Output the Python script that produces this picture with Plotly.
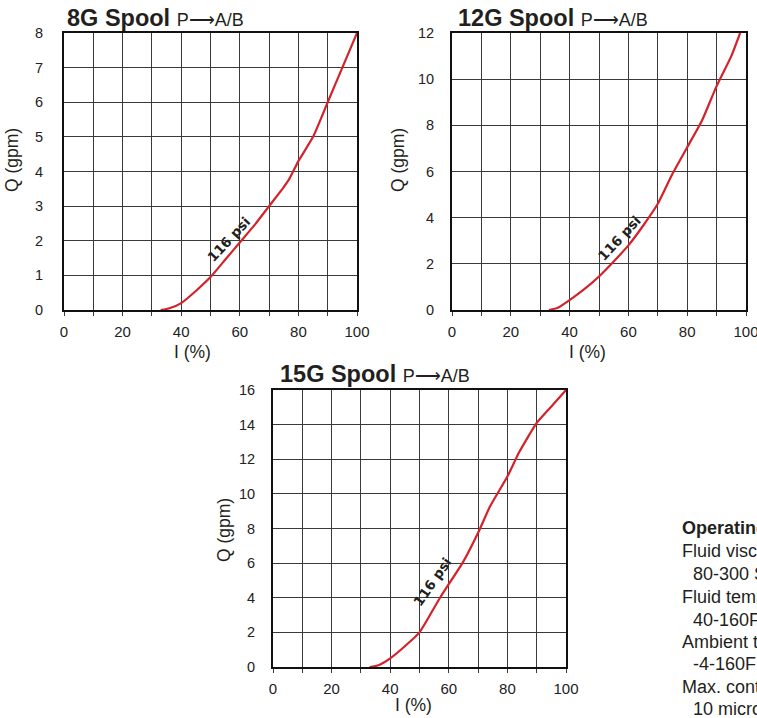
import plotly.graph_objects as go

W, H = 757, 718

# ---- data ----
i_8g = [33, 36, 40, 45, 50, 55, 60, 65, 70, 75, 77, 80, 85, 90, 95, 100]
q_8g = [0, 0.05, 0.2, 0.55, 0.95, 1.45, 1.95, 2.45, 3.0, 3.55, 3.8, 4.3, 5.0, 6.0, 7.0, 8.0]

i_12g = [33, 36, 40, 45, 50, 55, 60, 65, 70, 75, 80, 85, 90, 95, 98]
q_12g = [0, 0.1, 0.43, 0.9, 1.45, 2.1, 2.8, 3.65, 4.6, 5.9, 7.05, 8.2, 9.7, 11.0, 12.0]

i_15g = [33, 36, 40, 45, 50, 57, 65, 70, 74, 80, 84, 90, 95, 100]
q_15g = [0, 0.1, 0.5, 1.2, 2.0, 4.0, 6.1, 7.75, 9.25, 11.0, 12.4, 14.1, 15.05, 16.0]

x_ticks = [0, 20, 40, 60, 80, 100]
pressure_label = "116 psi"
notes = ["Fluid viscosity", "80-300 SUS", "Fluid temperature", "40-160F",
         "Ambient temperature", "-4-160F", "Max. contamination", "10 micron"]
notes_title = "Operating Conditions"

# ---- layout helpers ----
RED = "#d3222a"
GRID = "#3a3a3a"
FONT = "Liberation Sans, Arial, sans-serif"

def px_x(p):
    return p / W

def px_y(p):
    return 1 - p / H

panels = [
    dict(name="8G", I=i_8g, Q=q_8g, l=64, r=357, t=33, b=310, ymax=8, dy=1, so=16,
         lab=(56.3, 2.05, -47), title_x=65, title_y=18, ytitle_x=12, ytitle_y=160, xtitle_x=193, xtitle_y=352),
    dict(name="12G", I=i_12g, Q=q_12g, l=452, r=746, t=33, b=310, ymax=12, dy=2, so=13,
         lab=(57.0, 3.1, -47), title_x=456, title_y=18, ytitle_x=398, ytitle_y=160, xtitle_x=587, xtitle_y=352),
    dict(name="15G", I=i_15g, Q=q_15g, l=273, r=566, t=390, b=667, ymax=16, dy=2, so=13,
         lab=(54.3, 4.9, -55), title_x=278, title_y=374, ytitle_x=224, ytitle_y=530, xtitle_x=413, xtitle_y=705),
]

fig = go.Figure()
annotations = []
layout_axes = {}

for k, p in enumerate(panels, start=1):
    xa = "x" if k == 1 else f"x{k}"
    ya = "y" if k == 1 else f"y{k}"
    fig.add_trace(go.Scatter(x=p["I"], y=p["Q"], mode="lines",
                             line=dict(color=RED, width=2.2, shape="spline", smoothing=0.5),
                             xaxis=xa, yaxis=ya, hoverinfo="skip", showlegend=False))
    xkey = "xaxis" if k == 1 else f"xaxis{k}"
    ykey = "yaxis" if k == 1 else f"yaxis{k}"
    layout_axes[xkey] = dict(
        domain=[px_x(p["l"]), px_x(p["r"])], anchor=ya, range=[0, 100],
        tickvals=x_ticks, ticks="outside", ticklen=4, tickwidth=1.3, tickcolor=GRID,
        showgrid=True, gridcolor=GRID, gridwidth=1.3,
        minor=dict(dtick=10, tick0=0, showgrid=True, gridcolor=GRID, gridwidth=1.3,
                   ticks="outside", ticklen=4, tickwidth=1.3, tickcolor=GRID),
        showline=True, linecolor="#111", linewidth=2, mirror=True, zeroline=False,
        tickfont=dict(family=FONT, size=15, color="#222"), ticklabelstandoff=3,
        ticklabeloverflow="allow",
        fixedrange=True, automargin=False,
    )
    layout_axes[ykey] = dict(
        domain=[px_y(p["b"]), px_y(p["t"])], anchor=xa, range=[0, p["ymax"]],
        dtick=p["dy"], tick0=0, ticks="",
        showgrid=True, gridcolor=GRID, gridwidth=1.3,
        showline=True, linecolor="#111", linewidth=2, mirror=True, zeroline=False,
        tickfont=dict(family=FONT, size=14.5, color="#222"), ticklabelstandoff=p["so"],
        ticklabeloverflow="allow",
        fixedrange=True, automargin=False,
    )
    annotations.append(dict(
        xref="paper", yref="paper", x=px_x(p["title_x"]), y=px_y(p["title_y"]),
        xanchor="left", yanchor="middle", showarrow=False,
        text=f"<b>{p['name']} Spool</b> <span style='font-size:18px'>P⟶A/B</span>",
        font=dict(family=FONT, size=23.5, color="#231f20")))
    annotations.append(dict(
        xref="paper", yref="paper", x=px_x(p["ytitle_x"]), y=px_y(p["ytitle_y"]),
        xanchor="center", yanchor="middle", showarrow=False, textangle=-90,
        text="Q (gpm)", font=dict(family=FONT, size=17.5, color="#231f20")))
    annotations.append(dict(
        xref="paper", yref="paper", x=px_x(p["xtitle_x"]), y=px_y(p["xtitle_y"]),
        xanchor="center", yanchor="middle", showarrow=False,
        text="I (%)", font=dict(family=FONT, size=17.5, color="#231f20")))
    li, lq, ang = p["lab"]
    annotations.append(dict(
        xref=xa, yref=ya, x=li, y=lq, xanchor="center", yanchor="middle",
        showarrow=False, textangle=ang, text=f"<b>{pressure_label}</b>",
        font=dict(family="DejaVu Sans, sans-serif", size=13.5, color="#231f20")))

line_y = [528, 551, 574, 597, 620, 642, 664, 687, 709]
annotations.append(dict(
    xref="paper", yref="paper", x=px_x(680), y=px_y(line_y[0]), xanchor="left", yanchor="middle",
    showarrow=False, text=f"<b>{notes_title}</b>", font=dict(family=FONT, size=18, color="#231f20")))
for j, txt in enumerate(notes):
    indent = (j % 2 == 1)
    annotations.append(dict(
        xref="paper", yref="paper", x=px_x(691 if indent else 680), y=px_y(line_y[j + 1]),
        xanchor="left", yanchor="middle", showarrow=False, text=txt,
        font=dict(family=FONT, size=18, color="#231f20")))

fig.update_layout(
    width=W, height=H, margin=dict(l=0, r=0, t=0, b=0, autoexpand=False),
    paper_bgcolor="white", plot_bgcolor="white", showlegend=False,
    annotations=annotations, **layout_axes,
)

fig.write_html(
    "out.html",
    config={"displayModeBar": False},
    post_script="document.body.style.margin='0';document.body.style.overflow='hidden';",
)
